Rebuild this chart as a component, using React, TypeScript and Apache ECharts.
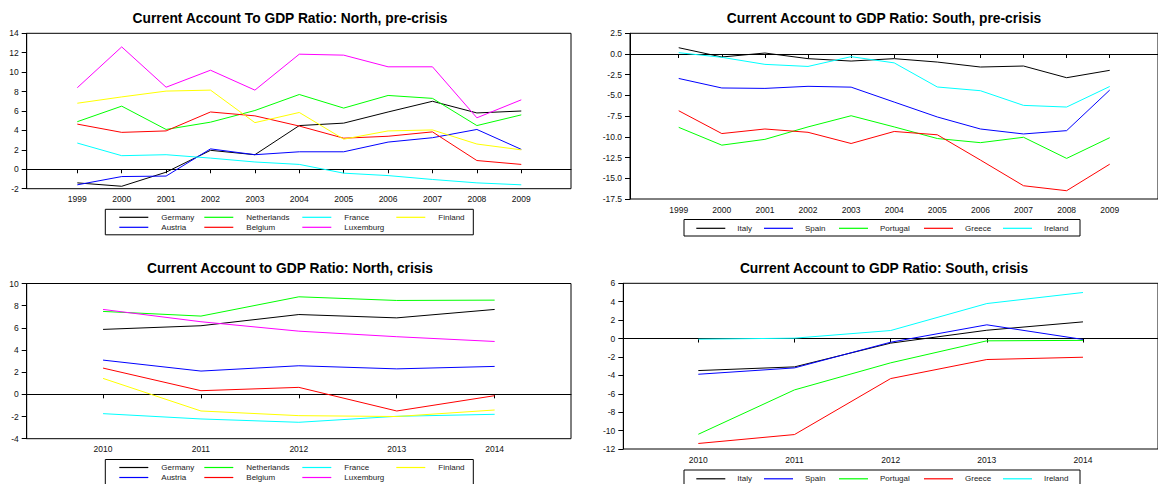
import React, { useEffect, useRef } from "react";
import * as echarts from "echarts";

// Years on the horizontal axes
const yearsPre = [1999, 2000, 2001, 2002, 2003, 2004, 2005, 2006, 2007, 2008, 2009];
const yearsCrisis = [2010, 2011, 2012, 2013, 2014];

// Country names (legend order, column by column)
const northNames = ["Germany", "Austria", "Netherlands", "Belgium", "France", "Luxemburg", "Finland"];
const southNames = ["Italy", "Spain", "Portugal", "Greece", "Ireland"];

// Current account to GDP ratio (%), North, 1999-2009
const germanyPre = [-1.4, -1.75, -0.3, 1.95, 1.5, 4.5, 4.75, 5.9, 7.0, 5.8, 6.0];
const austriaPre = [-1.6, -0.75, -0.7, 2.1, 1.5, 1.8, 1.8, 2.8, 3.25, 4.1, 2.05];
const netherlandsPre = [4.9, 6.5, 4.1, 4.85, 6.05, 7.7, 6.3, 7.6, 7.3, 4.5, 5.6];
const belgiumPre = [4.65, 3.8, 3.95, 5.9, 5.5, 4.45, 3.2, 3.4, 3.85, 0.9, 0.5];
const francePre = [2.7, 1.4, 1.5, 1.15, 0.75, 0.5, -0.4, -0.65, -1.05, -1.4, -1.6];
const luxemburgPre = [8.4, 12.6, 8.45, 10.2, 8.15, 11.85, 11.75, 10.55, 10.55, 5.3, 7.15];
const finlandPre = [6.8, 7.45, 8.05, 8.15, 4.8, 5.85, 3.1, 3.95, 4.05, 2.6, 2.0];

// Current account to GDP ratio (%), South, 1999-2009
const italyPre = [0.76, -0.36, 0.12, -0.56, -0.85, -0.56, -0.97, -1.57, -1.45, -2.86, -1.97];
const spainPre = [-2.95, -4.1, -4.15, -3.9, -4.0, -5.8, -7.6, -9.05, -9.65, -9.25, -4.35];
const portugalPre = [-8.85, -11.0, -10.3, -8.8, -7.45, -8.8, -10.2, -10.7, -10.05, -12.6, -10.1];
const greecePre = [-6.85, -9.6, -9.05, -9.45, -10.8, -9.35, -9.75, -12.8, -15.9, -16.5, -13.3];
const irelandPre = [0.16, -0.4, -1.25, -1.5, -0.32, -1.07, -3.98, -4.43, -6.2, -6.4, -3.92];

// Current account to GDP ratio (%), North, 2010-2014
const germanyCrisis = [5.86, 6.19, 7.2, 6.9, 7.66];
const austriaCrisis = [3.09, 2.1, 2.58, 2.3, 2.52];
const netherlandsCrisis = [7.48, 7.06, 8.8, 8.47, 8.5];
const belgiumCrisis = [2.37, 0.33, 0.63, -1.5, -0.12];
const franceCrisis = [-1.74, -2.22, -2.52, -1.98, -1.8];
const luxemburgCrisis = [7.66, 6.55, 5.7, 5.2, 4.77];
const finlandCrisis = [1.44, -1.5, -1.92, -2.0, -1.41];

// Current account to GDP ratio (%), South, 2010-2014
const italyCrisis = [-3.48, -3.08, -0.5, 0.9, 1.81];
const spainCrisis = [-3.88, -3.19, -0.4, 1.49, -0.1];
const portugalCrisis = [-10.4, -5.58, -2.64, -0.25, -0.2];
const greeceCrisis = [-11.4, -10.43, -4.35, -2.28, -2.03];
const irelandCrisis = [-0.07, 0.04, 0.87, 3.8, 5.0];

const northPre = [germanyPre, austriaPre, netherlandsPre, belgiumPre, francePre, luxemburgPre, finlandPre];
const southPre = [italyPre, spainPre, portugalPre, greecePre, irelandPre];
const northCrisis = [germanyCrisis, austriaCrisis, netherlandsCrisis, belgiumCrisis, franceCrisis, luxemburgCrisis, finlandCrisis];
const southCrisis = [italyCrisis, spainCrisis, portugalCrisis, greeceCrisis, irelandCrisis];

const northColors = ["#000000", "#0000ff", "#00ff00", "#ff0000", "#00ffff", "#ff00ff", "#ffff00"];
const southColors = ["#000000", "#0000ff", "#00ff00", "#ff0000", "#00ffff"];

const titles = [
  "Current Account To GDP Ratio: North, pre-crisis",
  "Current Account to GDP Ratio: South, pre-crisis",
  "Current Account to GDP Ratio: North, crisis",
  "Current Account to GDP Ratio: South, crisis",
];

const FONT = '"Liberation Sans", Arial, Helvetica, sans-serif';

export default function App() {
  const ref = useRef<HTMLDivElement>(null);

  useEffect(() => {
    if (!ref.current) return;
    const chart = echarts.init(ref.current, null, { renderer: "svg" });

    const panels = [
      { grid: { left: 26.7, top: 33.3, width: 544.3, height: 155.4 }, years: yearsPre, xMin: 1997.86, xMax: 2010.12, yMin: -2, yMax: 14, step: 2, dec: 0, names: northNames, colors: northColors, values: northPre },
      { grid: { left: 630, top: 33.3, width: 534, height: 165.7 }, years: yearsPre, xMin: 1997.87, xMax: 2010.12, yMin: -17.5, yMax: 2.5, step: 2.5, dec: 1, names: southNames, colors: southColors, values: southPre },
      { grid: { left: 26.7, top: 283.5, width: 544.3, height: 155.2 }, years: yearsCrisis, xMin: 2009.22, xMax: 2014.78, yMin: -4, yMax: 10, step: 2, dec: 0, names: northNames, colors: northColors, values: northCrisis },
      { grid: { left: 623.3, top: 283.3, width: 540.7, height: 165.7 }, years: yearsCrisis, xMin: 2009.22, xMax: 2014.78, yMin: -12, yMax: 6, step: 2, dec: 0, names: southNames, colors: southColors, values: southCrisis },
    ];

    const labelStyle = { color: "#111", fontSize: 8.5, fontFamily: FONT };

    const grids = panels.map((p) => ({
      ...p.grid,
      show: true,
      borderColor: "#000",
      borderWidth: 1,
      containLabel: false,
    }));

    const xAxes = panels.map((p, i) => ({
      type: "value",
      gridIndex: i,
      min: p.xMin,
      max: p.xMax,
      axisLine: { show: true, lineStyle: { color: "#000", width: 1 } },
      axisTick: { show: true, length: 4, inside: false, customValues: p.years, lineStyle: { color: "#000" } },
      axisLabel: { ...labelStyle, margin: 6, customValues: p.years, formatter: (v: number) => String(Math.round(v)) },
      splitLine: { show: false },
    }));

    const yAxes = panels.map((p, i) => ({
      type: "value",
      gridIndex: i,
      min: p.yMin,
      max: p.yMax,
      interval: p.step,
      axisLine: { show: true, lineStyle: { color: "#000", width: 1 } },
      axisTick: { show: true, length: 5, inside: false, lineStyle: { color: "#000" } },
      axisLabel: { ...labelStyle, margin: 8, formatter: (v: number) => v.toFixed(p.dec) },
      splitLine: { show: false },
    }));

    const series: any[] = [];
    panels.forEach((p, i) => {
      p.values.forEach((vals, k) => {
        series.push({
          type: "line",
          name: p.names[k],
          xAxisIndex: i,
          yAxisIndex: i,
          data: vals.map((v, j) => [p.years[j], v]),
          symbol: "none",
          lineStyle: { color: p.colors[k], width: 1 },
          itemStyle: { color: p.colors[k] },
          z: 3,
          markLine:
            k === 0
              ? {
                  silent: true,
                  symbol: "none",
                  label: { show: false },
                  lineStyle: { color: "#000", width: 1, type: "solid" },
                  data: [{ yAxis: 0 }],
                  z: 2,
                }
              : undefined,
        });
      });
    });

    // Titles
    const titleCenters = [[290, 18.3], [884, 18.3], [290, 268.3], [884, 268.3]];
    const graphics: any[] = titles.map((t, i) => ({
      type: "text",
      x: titleCenters[i][0],
      y: titleCenters[i][1],
      style: {
        text: t,
        font: `bold 13.8px ${FONT}`,
        fill: "#000",
        textAlign: "center",
        textVerticalAlign: "middle",
        verticalAlign: "middle",
      },
    }));

    // Legend boxes: north panels use a 2-row grid, south panels a single row
    const northBoxes = [[105.3, 209.3], [105.3, 459.5]];
    const southBoxes = [[684, 219.5], [684, 470]];
    const northCols = [14, 99, 197, 291];
    const southCols = [12.3, 80, 155, 240, 319];
    const legendText = (x: number, y: number, text: string) => ({
      type: "text",
      x,
      y,
      style: { text, font: `8px ${FONT}`, fill: "#222", textAlign: "left", textVerticalAlign: "middle", verticalAlign: "middle" },
    });
    const legendLine = (x: number, y: number, color: string) => ({
      type: "line",
      shape: { x1: x, y1: y, x2: x + 29, y2: y },
      style: { stroke: color, lineWidth: 1.2 },
    });

    northBoxes.forEach(([bx, by]) => {
      graphics.push({ type: "rect", shape: { x: bx, y: by, width: 368, height: 25.5 }, style: { fill: "#fff", stroke: "#000", lineWidth: 1 } });
      northNames.forEach((n, k) => {
        const cx = bx + northCols[Math.floor(k / 2)];
        const cy = by + (k % 2 === 0 ? 8 : 18);
        graphics.push(legendLine(cx, cy, northColors[k]));
        graphics.push(legendText(cx + 42, cy, n));
      });
    });
    southBoxes.forEach(([bx, by]) => {
      graphics.push({ type: "rect", shape: { x: bx, y: by, width: 396, height: 16.5 }, style: { fill: "#fff", stroke: "#000", lineWidth: 1 } });
      southNames.forEach((n, k) => {
        const cx = bx + southCols[k];
        const cy = by + 8.8;
        graphics.push(legendLine(cx, cy, southColors[k]));
        graphics.push(legendText(cx + 41, cy, n));
      });
    });

    chart.setOption({
      animation: false,
      backgroundColor: "#fff",
      grid: grids,
      xAxis: xAxes,
      yAxis: yAxes,
      series,
      graphic: graphics,
    });

    return () => chart.dispose();
  }, []);

  return <div ref={ref} style={{ position: "fixed", left: 0, top: 0, width: 1158, height: 484 }} />;
}
